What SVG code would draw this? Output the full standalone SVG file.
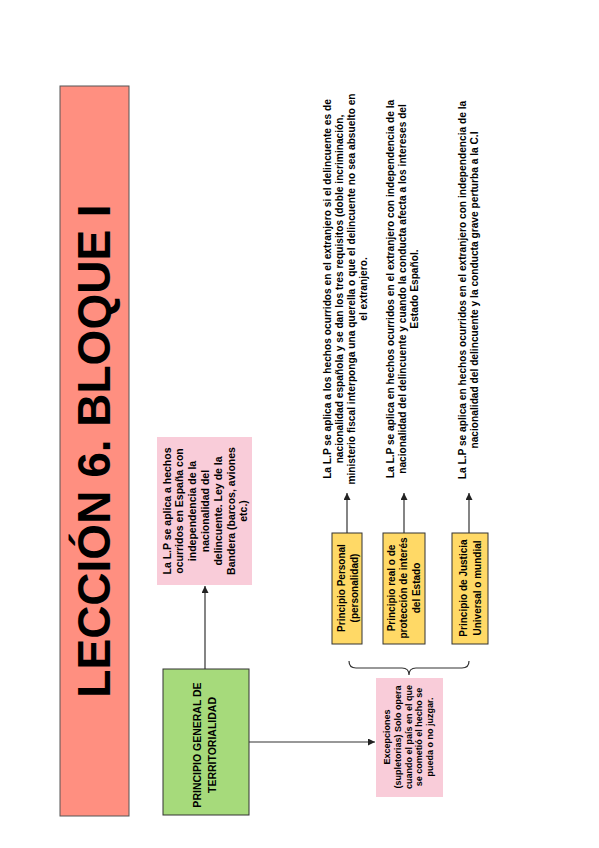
<svg xmlns="http://www.w3.org/2000/svg" width="599" height="848" viewBox="0 0 599 848">
<defs>
<style>
text{font-family:"Liberation Sans",Arial,sans-serif;font-weight:bold;fill:#000;text-anchor:middle}
.t1{font-size:46px}
.b{font-size:10.5px}
.e{font-size:9px}
.y{font-size:10px}
.l{font-size:10.2px}
.con{stroke:#333;stroke-width:1.2;fill:none}
</style>
<marker id="ah" viewBox="0 0 10 10" refX="10" refY="5" markerWidth="7" markerHeight="7" markerUnits="userSpaceOnUse" orient="auto">
<path d="M0,0 L10,5 L0,10 z" fill="#222"/>
</marker>
</defs>
<rect width="599" height="848" fill="#fff"/>

<g id="title">
<rect x="60" y="86" width="69" height="730" fill="#FF8F80" stroke="#555" stroke-width="1"/>
<text class="t1" transform="translate(110,451) rotate(-90)">LECCIÓN 6. BLOQUE I</text>
</g>

<g id="territorialidad-desc">
<rect x="157" y="437" width="95" height="148" fill="#F9CCD9"/>
<g transform="translate(0,511)">
<text class="b" transform="translate(170.5,0) rotate(-90)">La L.P se aplica a hechos</text>
<text class="b" transform="translate(183.3,0) rotate(-90)">ocurridos en España con</text>
<text class="b" transform="translate(196.1,0) rotate(-90)">independencia de la</text>
<text class="b" transform="translate(208.9,0) rotate(-90)">nacionalidad del</text>
<text class="b" transform="translate(221.7,0) rotate(-90)">delincuente. Ley de la</text>
<text class="b" transform="translate(234.5,0) rotate(-90)">Bandera (barcos, aviones</text>
<text class="b" transform="translate(247.3,0) rotate(-90)">etc.)</text>
</g>
</g>

<g id="principio-general">
<rect x="163" y="669" width="86" height="146" fill="#A6DA7B" stroke="#333" stroke-width="1"/>
<text class="b" transform="translate(200.5,745) rotate(-90)">PRINCIPIO GENERAL DE</text>
<text class="b" transform="translate(215.5,745) rotate(-90)">TERRITORIALIDAD</text>
</g>

<g id="excepciones">
<rect x="376" y="678" width="67" height="119" fill="#F9CCD9"/>
<g transform="translate(0,737)">
<text class="e" transform="translate(390,0) rotate(-90)">Excepciones</text>
<text class="e" transform="translate(400.8,0) rotate(-90)">(supletorias) Solo opera</text>
<text class="e" transform="translate(411.5,0) rotate(-90)">cuando el país en el que</text>
<text class="e" transform="translate(422.3,0) rotate(-90)">se cometió el hecho se</text>
<text class="e" transform="translate(433,0) rotate(-90)">pueda o no juzgar.</text>
</g>
</g>

<g id="personal">
<rect x="332" y="533" width="30" height="111" fill="#FFD966" stroke="#333" stroke-width="1"/>
<text class="y" transform="translate(344.5,588) rotate(-90)">Principio Personal</text>
<text class="y" transform="translate(357.5,588) rotate(-90)">(personalidad)</text>
</g>

<g id="real">
<rect x="383" y="533" width="42" height="111" fill="#FFD966" stroke="#333" stroke-width="1"/>
<text class="y" transform="translate(394.5,588) rotate(-90)">Principio real o de</text>
<text class="y" transform="translate(407,588) rotate(-90)">protección de interés</text>
<text class="y" transform="translate(419.5,588) rotate(-90)">del Estado</text>
</g>

<g id="justicia">
<rect x="452" y="533" width="36" height="111" fill="#FFD966" stroke="#333" stroke-width="1"/>
<text class="y" transform="translate(466.5,588) rotate(-90)">Principio de Justicia</text>
<text class="y" transform="translate(480.5,588) rotate(-90)">Universal o mundial</text>
</g>

<g id="personal-desc">
<g transform="translate(0,289)">
<text class="l" transform="translate(330.5,0) rotate(-90)">La L.P se aplica  a los hechos ocurridos en el extranjero si el delincuente es de</text>
<text class="l" transform="translate(342.5,0) rotate(-90)">nacionalidad española y se dan los tres requisitos (doble incriminación,</text>
<text class="l" transform="translate(354.5,0) rotate(-90)">ministerio fiscal interponga una querella o que el delincuente no sea absuelto en</text>
<text class="l" transform="translate(366.5,0) rotate(-90)">el extranjero.</text>
</g>
</g>

<g id="real-desc">
<g transform="translate(0,289)">
<text class="l" transform="translate(394,0) rotate(-90)">La L.P se aplica en hechos ocurridos en el extranjero con independencia de la</text>
<text class="l" transform="translate(405.5,0) rotate(-90)">nacionalidad del delincuente  y cuando la conducta afecta a los intereses del</text>
<text class="l" transform="translate(417.5,0) rotate(-90)">Estado Español.</text>
</g>
</g>

<g id="justicia-desc">
<g transform="translate(0,290)">
<text class="l" transform="translate(466,0) rotate(-90)">La L.P se aplica en hechos ocurridos en el extranjero con independencia de la</text>
<text class="l" transform="translate(477.5,0) rotate(-90)">nacionalidad del delincuente y  la conducta grave perturba a  la C.I</text>
</g>
</g>

<g id="connectors">
<line class="con" x1="205" y1="669" x2="205" y2="586" marker-end="url(#ah)"/>
<line class="con" x1="249" y1="742" x2="375" y2="742" marker-end="url(#ah)"/>
<line class="con" x1="347" y1="533" x2="347" y2="493" marker-end="url(#ah)"/>
<line class="con" x1="404" y1="533" x2="404" y2="493" marker-end="url(#ah)"/>
<line class="con" x1="469" y1="533" x2="469" y2="493" marker-end="url(#ah)"/>
<path class="con" d="M349,661 Q349,668 356,668 L402,668 Q409,668 409,675 Q409,668 416,668 L462,668 Q469,668 469,661"/>
</g>
</svg>
